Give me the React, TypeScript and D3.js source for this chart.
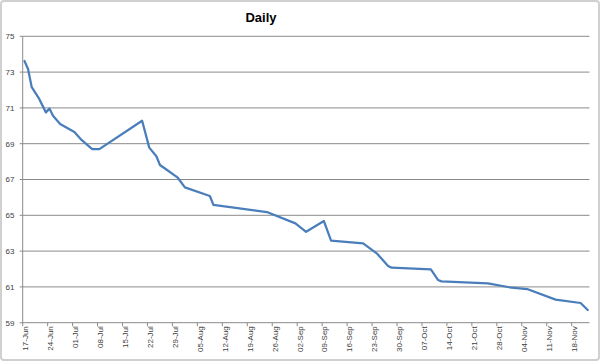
import React from "react";
import * as d3 from "d3";

const dates = [
  "2013-06-17", "2013-06-18", "2013-06-19", "2013-06-21", "2013-06-23", "2013-06-24",
  "2013-06-25", "2013-06-27", "2013-07-01", "2013-07-03", "2013-07-06", "2013-07-08",
  "2013-07-20", "2013-07-22", "2013-07-24", "2013-07-25", "2013-07-27", "2013-07-30",
  "2013-08-01", "2013-08-08", "2013-08-09", "2013-08-24", "2013-09-01", "2013-09-04",
  "2013-09-09", "2013-09-11", "2013-09-20", "2013-09-24", "2013-09-27", "2013-09-28",
  "2013-10-09", "2013-10-11", "2013-10-12", "2013-10-25", "2013-10-31", "2013-11-05",
  "2013-11-13", "2013-11-20", "2013-11-22",
];
const values = [
  73.62, 73.17, 72.18, 71.55, 70.75, 70.96,
  70.56, 70.1, 69.65, 69.21, 68.7, 68.7,
  70.28, 68.78, 68.3, 67.81, 67.53, 67.1,
  66.56, 66.08, 65.58, 65.18, 64.55, 64.08,
  64.68, 63.58, 63.43, 62.84, 62.17, 62.07,
  61.98, 61.39, 61.31, 61.2, 60.98, 60.88,
  60.29, 60.1, 59.71,
];
const tickDates = [
  "2013-06-17", "2013-06-24", "2013-07-01", "2013-07-08", "2013-07-15", "2013-07-22",
  "2013-07-29", "2013-08-05", "2013-08-12", "2013-08-19", "2013-08-26", "2013-09-02",
  "2013-09-09", "2013-09-16", "2013-09-23", "2013-09-30", "2013-10-07", "2013-10-14",
  "2013-10-21", "2013-10-28", "2013-11-04", "2013-11-11", "2013-11-18",
];
const yTicks = [59, 61, 63, 65, 67, 69, 71, 73, 75];
const title = "Daily";

const parse = d3.utcParse("%Y-%m-%d");
const fmt = d3.utcFormat("%d-%b");

export default function App() {
  const W = 600, H = 361;
  const left = 22.7, right = 589.5, top = 36.3, bottom = 322.7;
  const x = d3.scaleUtc().domain([parse("2013-06-17")!, parse("2013-11-23")!]).range([left, right]);
  const y = d3.scaleLinear().domain([59, 75]).range([bottom, top]);
  const pts = dates.map((d, i) => ({ t: d3.utcHour.offset(parse(d)!, 12), v: values[i] }));
  const line = d3.line<{ t: Date; v: number }>().x((p) => x(p.t)).y((p) => y(p.v));
  const font = "'Liberation Sans', Arial, sans-serif";
  const axisCol = "#8a8a8a";
  return (
    <div style={{ position: "fixed", left: 0, top: 0 }}>
      <svg width={W} height={H} style={{ display: "block" }}>
        <rect x={0} y={0} width={W} height={H} fill="#fff" />
        <rect x={1} y={1} width={W - 2} height={H - 2} fill="none" stroke="#d0d0d0" strokeWidth={2} rx={3} />
        <text x={261} y={22} textAnchor="middle" fontFamily={font} fontWeight="bold" fontSize={13} fill="#000">
          {title}
        </text>
        {yTicks.map((t) => (
          <g key={t}>
            {t !== 59 && (
              <line x1={left} x2={right} y1={y(t)} y2={y(t)} stroke={axisCol} strokeWidth={1} />
            )}
            <line x1={left - 3} x2={left} y1={y(t)} y2={y(t)} stroke={axisCol} strokeWidth={1} />
            <text x={14.5} y={y(t)} dy="0.35em" textAnchor="end" fontFamily={font} fontSize={8} fill="#404040">
              {t}
            </text>
          </g>
        ))}
        <line x1={left} x2={left} y1={top} y2={bottom} stroke={axisCol} strokeWidth={1} />
        <line x1={left} x2={right} y1={bottom} y2={bottom} stroke={axisCol} strokeWidth={1} />
        {tickDates.map((s) => {
          const d = parse(s)!;
          const tx = x(d);
          return (
            <g key={s}>
              <line x1={tx} x2={tx} y1={bottom} y2={bottom + 3.5} stroke={axisCol} strokeWidth={1} />
              <text
                transform={`translate(${tx + 2.5},${bottom + 3.5}) rotate(-90)`}
                dy="0.35em"
                textAnchor="end"
                fontFamily={font}
                fontSize={8}
                fill="#404040"
              >
                {fmt(d)}
              </text>
            </g>
          );
        })}
        <path d={line(pts) || ""} fill="none" stroke="#4a7ebb" strokeWidth={2.25} strokeLinejoin="round" strokeLinecap="round" />
      </svg>
    </div>
  );
}
